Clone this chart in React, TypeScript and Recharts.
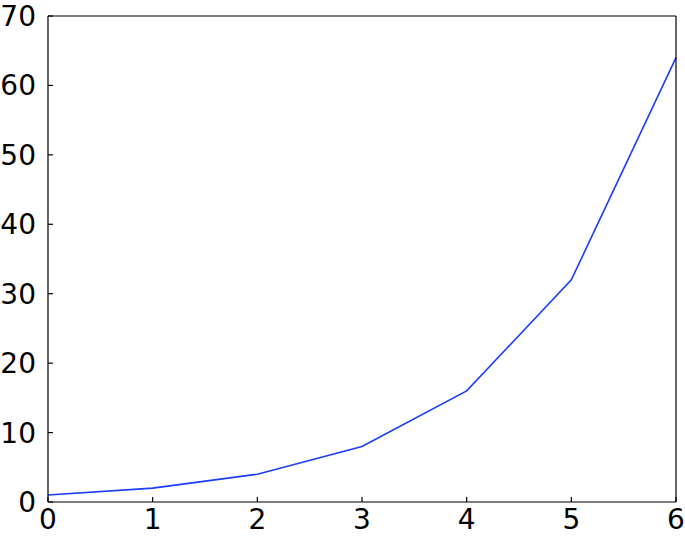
import React from 'react';
import { LineChart, Line, XAxis, YAxis } from 'recharts';

const xValues = [0, 1, 2, 3, 4, 5, 6];
const yValues = [1, 2, 4, 8, 16, 32, 64];
const xTicks = [0, 1, 2, 3, 4, 5, 6];
const yTicks = [0, 10, 20, 30, 40, 50, 60, 70];

const chartData = xValues.map((x, i) => ({ x, y: yValues[i] }));

const font = { fontFamily: 'DejaVu Sans', fontSize: 28, fill: '#000' };
const axisStroke = { stroke: '#000', strokeWidth: 1.2 };

const App: React.FC = () => {
  return (
    <div style={{ position: 'absolute', left: 0, top: 0, background: '#fff' }}>
      <LineChart width={685} height={536} data={chartData} margin={{ top: 15, right: 8, bottom: 0, left: 0 }}>
        <XAxis
          dataKey="x"
          type="number"
          domain={[0, 6]}
          ticks={xTicks}
          height={34}
          tick={font}
          tickSize={-5}
          tickMargin={12}
          axisLine={axisStroke}
          tickLine={axisStroke}
          interval={0}
        />
        <XAxis
          xAxisId="top"
          orientation="top"
          dataKey="x"
          type="number"
          domain={[0, 6]}
          ticks={xTicks}
          height={1}
          tick={false}
          tickSize={-5}
          axisLine={axisStroke}
          tickLine={axisStroke}
          interval={0}
        />
        <YAxis
          type="number"
          domain={[0, 70]}
          ticks={yTicks}
          width={48}
          tick={font}
          tickSize={-5}
          tickMargin={17}
          axisLine={axisStroke}
          tickLine={axisStroke}
          interval={0}
        />
        <YAxis
          yAxisId="right"
          orientation="right"
          type="number"
          domain={[0, 70]}
          ticks={yTicks}
          width={1}
          tick={false}
          tickSize={-5}
          axisLine={axisStroke}
          tickLine={axisStroke}
          interval={0}
        />
        <Line
          type="linear"
          dataKey="y"
          stroke="#1a3cff" // classic blue
          strokeWidth={1.6}
          dot={false}
          isAnimationActive={false}
        />
      </LineChart>
    </div>
  );
};

export default App;
